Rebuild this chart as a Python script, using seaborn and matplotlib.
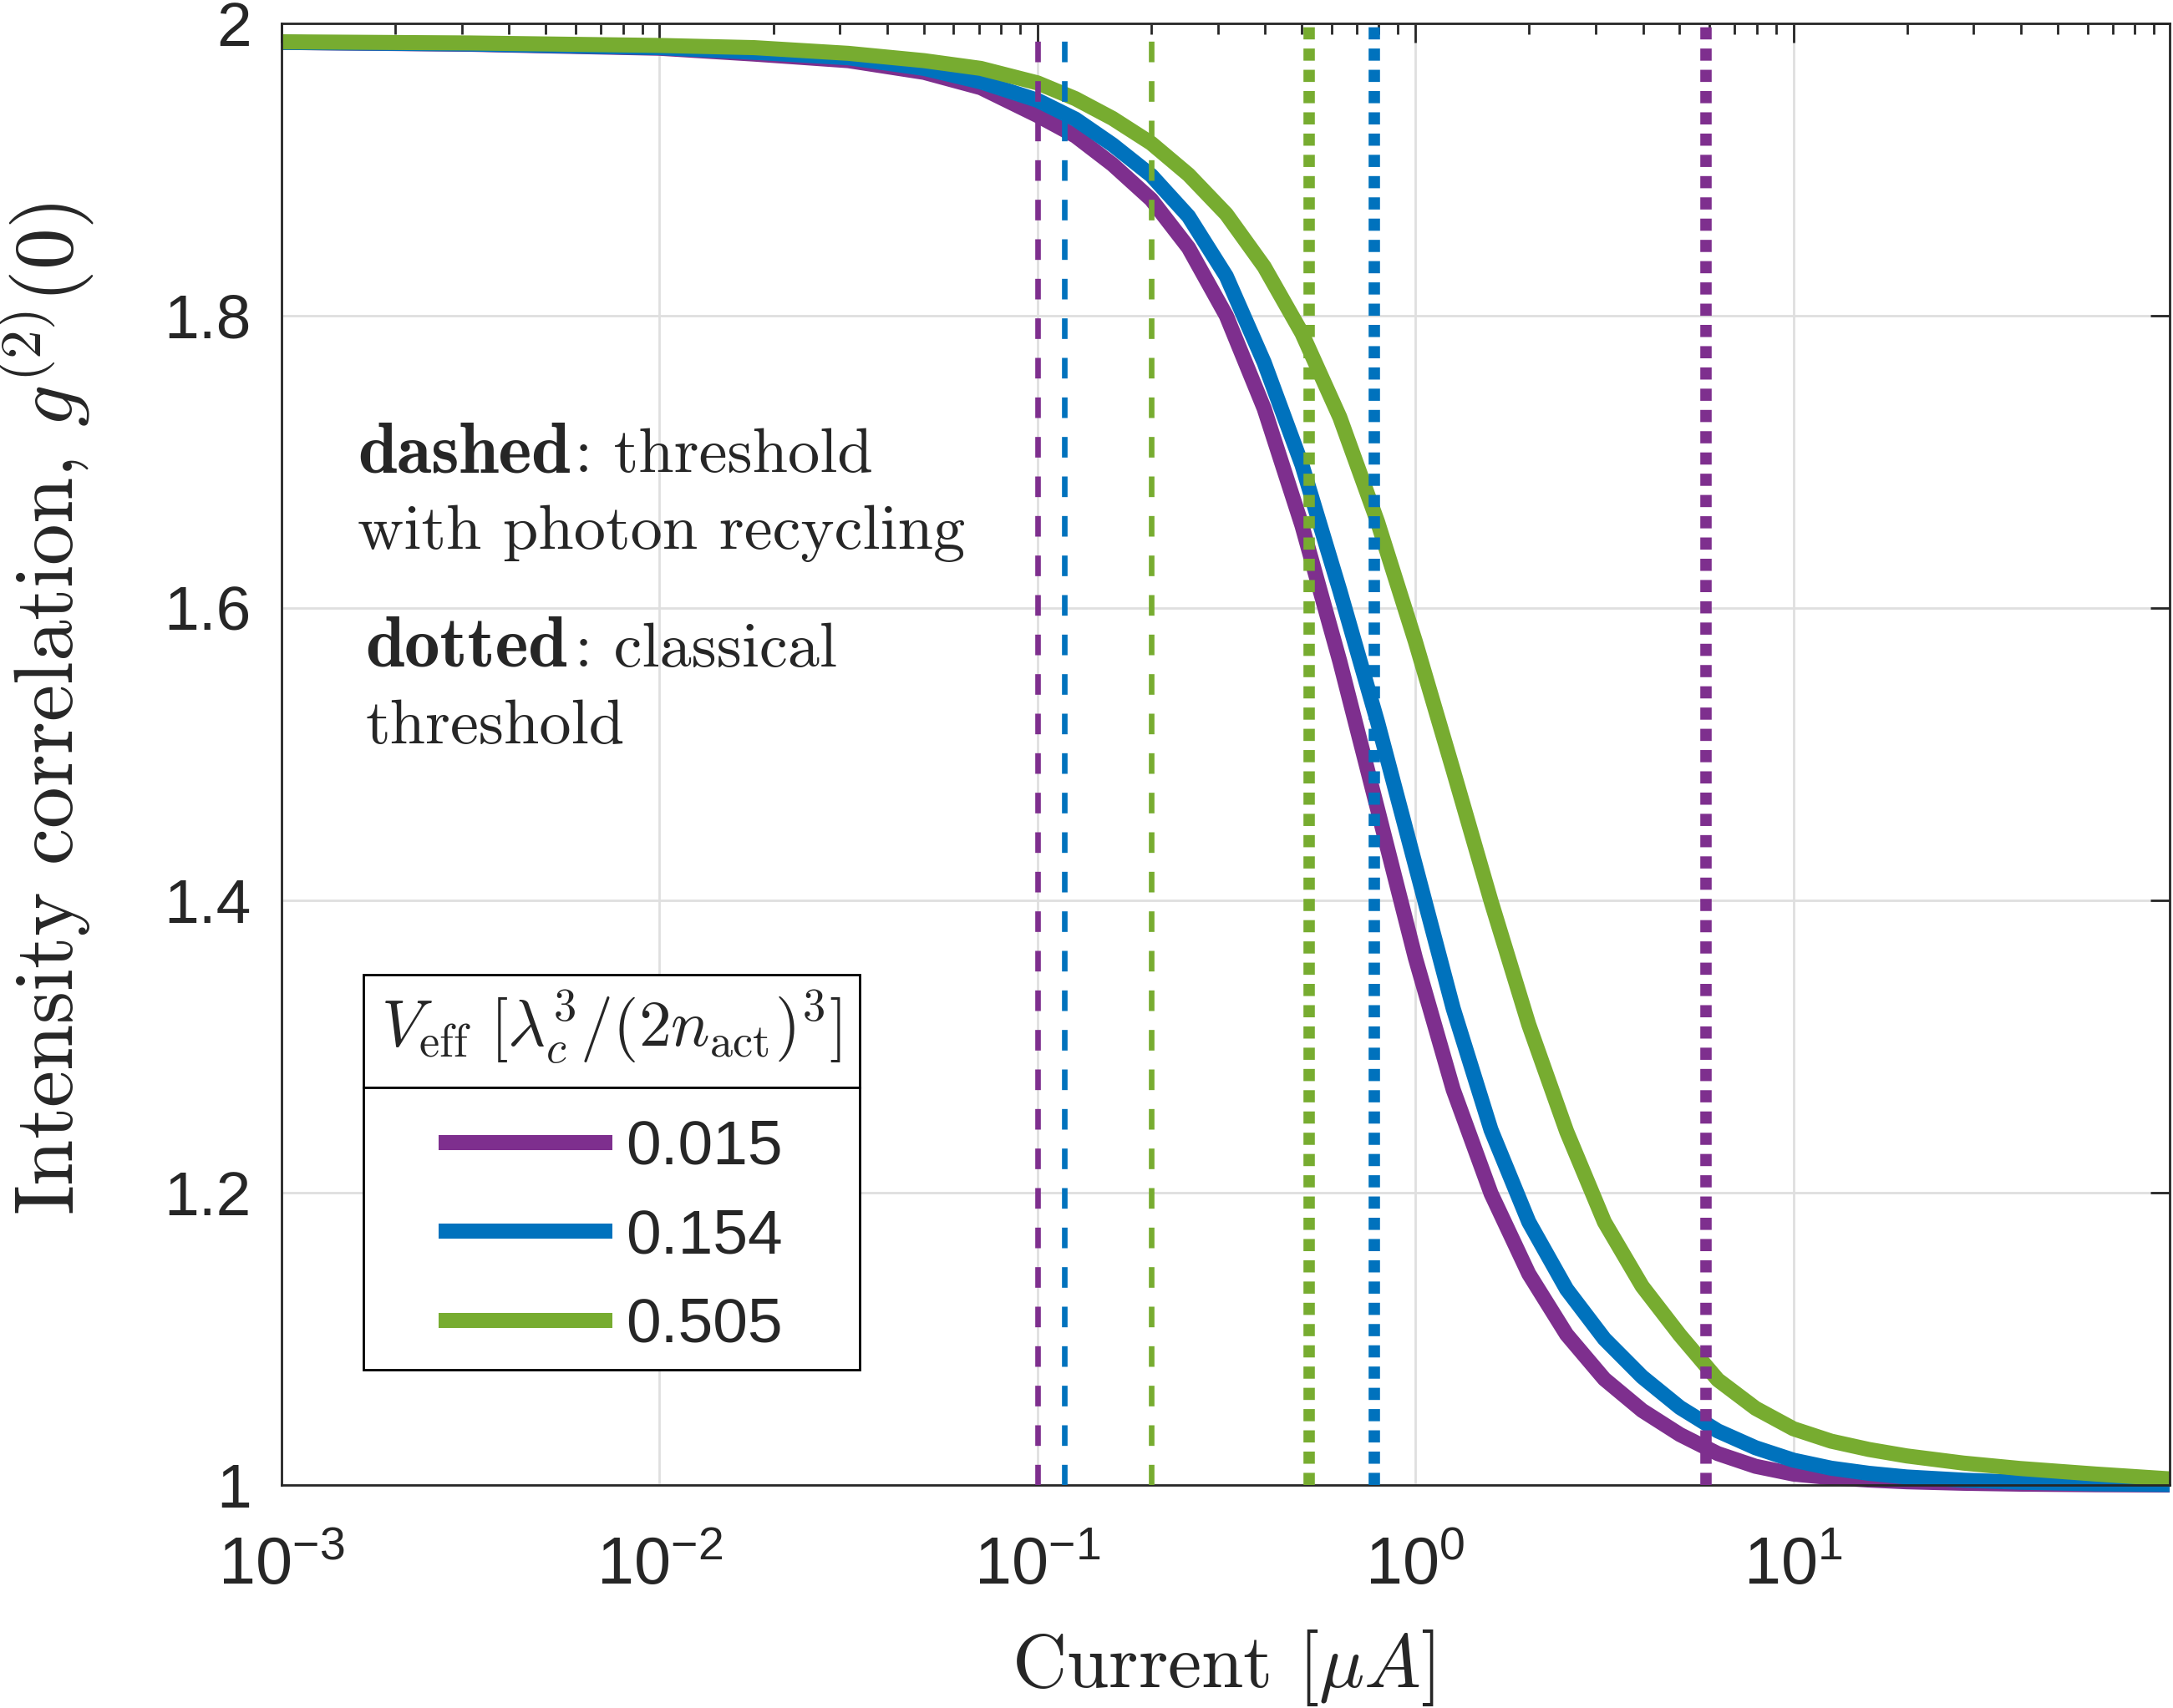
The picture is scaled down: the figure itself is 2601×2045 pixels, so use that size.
import numpy as np
import pandas as pd
import matplotlib
matplotlib.use('Agg')
import matplotlib.pyplot as plt
from matplotlib.patches import Rectangle
from matplotlib.lines import Line2D
from matplotlib.ticker import FixedLocator, FixedFormatter, LogLocator, NullFormatter
import seaborn as sns

# effective mode volumes (legend) and MATLAB default colours
veff_labels = ['0.015', '0.154', '0.505']
colors = ['#7E2F8E', '#0072BD', '#77AC30']

current = [0.001, 0.00316, 0.01, 0.0178, 0.0316, 0.0501, 0.0708, 0.1, 0.126, 0.158,
           0.2, 0.251, 0.316, 0.398, 0.501, 0.631, 0.794, 1.0, 1.259, 1.585,
           1.995, 2.512, 3.162, 3.981, 5.012, 6.31, 7.943, 10.0, 12.59, 15.85,
           19.95, 28.18, 39.81, 63.1, 99.0]

# g2(0) for each V_eff
g2_015 = [1.9870, 1.9857, 1.9830, 1.9790, 1.9745, 1.9665, 1.9560, 1.9370, 1.9230, 1.9035,
          1.8795, 1.8465, 1.8000, 1.7365, 1.6565, 1.5635, 1.4625, 1.3605, 1.2705, 1.1995,
          1.1445, 1.1030, 1.0725, 1.0510, 1.0345, 1.0215, 1.0128, 1.0075, 1.0050, 1.0034,
          1.0022, 1.0012, 1.0006, 1.0002, 1.0000]
g2_154 = [1.9870, 1.9859, 1.9834, 1.9802, 1.9765, 1.9692, 1.9600, 1.9474, 1.9345, 1.9170,
          1.8960, 1.8680, 1.8270, 1.7680, 1.6980, 1.6120, 1.5220, 1.4240, 1.3260, 1.2430,
          1.1800, 1.1340, 1.1000, 1.0740, 1.0530, 1.0370, 1.0255, 1.0170, 1.0115, 1.0080,
          1.0055, 1.0033, 1.0019, 1.0008, 1.0003]
g2_505 = [1.9874, 1.9866, 1.9849, 1.9834, 1.9795, 1.9745, 1.9692, 1.9593, 1.9485, 1.9350,
          1.9180, 1.8965, 1.8695, 1.8335, 1.7880, 1.7305, 1.6590, 1.5770, 1.4890, 1.3995,
          1.3150, 1.2420, 1.1800, 1.1360, 1.1025, 1.0720, 1.0525, 1.0385, 1.0300, 1.0243,
          1.0199, 1.0150, 1.0113, 1.0075, 1.0042]

# thresholds [uA], same order as veff_labels
thresh_recycling = [0.100, 0.118, 0.200]   # dashed
thresh_classical = [5.87, 0.778, 0.524]    # dotted

xtick_vals = [1e-3, 1e-2, 1e-1, 1e0, 1e1]
xtick_labels = [r'$\mathdefault{10^{-3}}$', r'$\mathdefault{10^{-2}}$', r'$\mathdefault{10^{-1}}$',
                r'$\mathdefault{10^{0}}$', r'$\mathdefault{10^{1}}$']
ytick_vals = [1.0, 1.2, 1.4, 1.6, 1.8, 2.0]
ytick_labels = ['1', '1.2', '1.4', '1.6', '1.8', '2']

sns.set_style('white')
plt.rcParams['font.family'] = ['Liberation Sans', 'DejaVu Sans']
plt.rcParams['mathtext.fontset'] = 'custom'
plt.rcParams['mathtext.rm'] = 'Liberation Sans'
plt.rcParams['mathtext.it'] = 'Liberation Sans:italic'
plt.rcParams['mathtext.bf'] = 'Liberation Sans:bold'

df = pd.concat([
    pd.DataFrame({'current': current, 'g2': g2_015, 'veff': veff_labels[0]}),
    pd.DataFrame({'current': current, 'g2': g2_154, 'veff': veff_labels[1]}),
    pd.DataFrame({'current': current, 'g2': g2_505, 'veff': veff_labels[2]}),
], ignore_index=True)

fig = plt.figure(figsize=(13.005, 10.225), dpi=200)
ax = fig.add_axes([0.12956, 0.13056, 0.86890, 0.85575])
ax.set_xscale('log')

sns.lineplot(data=df, x='current', y='g2', hue='veff', hue_order=veff_labels,
             palette=colors, linewidth=6.5, estimator=None, sort=False,
             legend=False, ax=ax)
for ln in ax.lines:
    ln.set_solid_capstyle('butt')
    ln.set_solid_joinstyle('round')
    ln.set_clip_on(False)
    ln.set_zorder(2)

for c, xv in zip(colors, thresh_recycling):
    ax.axvline(xv, color=c, lw=2.4, dashes=(3.7, 3.4), dash_capstyle='butt', zorder=3)
for c, xv in zip(colors, thresh_classical):
    ax.axvline(xv, color=c, lw=4.9, dashes=(1.07, 0.8), dash_capstyle='butt', zorder=3)

ax.set_xlim(1e-3, 99)
ax.set_ylim(1, 2)
ax.xaxis.set_major_locator(FixedLocator(xtick_vals))
ax.xaxis.set_major_formatter(FixedFormatter(xtick_labels))
ax.xaxis.set_minor_locator(LogLocator(base=10, subs=np.arange(2, 10), numticks=20))
ax.xaxis.set_minor_formatter(NullFormatter())
ax.yaxis.set_major_locator(FixedLocator(ytick_vals))
ax.yaxis.set_major_formatter(FixedFormatter(ytick_labels))

ax.set_axisbelow(True)
ax.grid(True, which='major', color='#dfdfdf', lw=1.0)
ax.tick_params(which='both', direction='in', top=True, right=True, color='#262626', width=1.0)
ax.tick_params(which='major', length=8.4)
ax.tick_params(which='minor', length=4.5)
ax.tick_params(axis='x', which='major', labelsize=28.5, pad=22, labelcolor='#262626')
ax.tick_params(axis='y', which='major', labelsize=27, pad=13, labelcolor='#262626')
for sp in ax.spines.values():
    sp.set_color('#262626')
    sp.set_linewidth(1.0)

ax.set_xlabel(r'Current [$\mu A$]', fontfamily='cmr10', math_fontfamily='cm', fontsize=32.6)
ax.xaxis.set_label_coords(0.4987, -0.1383)
ax.xaxis.label.set_va('baseline')
ax.set_ylabel(r'Intensity correlation, $g^{(2)}(0)$', fontfamily='cmr10', math_fontfamily='cm',
              fontsize=35.8)
ax.yaxis.set_label_coords(-0.1102, 0.531)
ax.yaxis.label.set_va('baseline')

# annotations (bold word, then the rest of the line)
bold_kw = dict(transform=ax.transAxes, fontfamily='cmb10', fontsize=30.5, ha='left', va='baseline')
note_kw = dict(transform=ax.transAxes, fontfamily='cmr10', fontsize=27.5, ha='left', va='baseline')
ax.text(0.0403, 0.6931, 'dashed', **bold_kw)
ax.text(0.1553, 0.6931, ': threshold', **note_kw)
ax.text(0.0403, 0.6408, 'with photon recycling', **note_kw)
ax.text(0.0445, 0.5600, 'dotted', **bold_kw)
ax.text(0.1553, 0.5600, ': classical', **note_kw)
ax.text(0.0445, 0.5074, 'threshold', **note_kw)

# legend: title box + entries box (MATLAB style)
ax.add_patch(Rectangle((0.0432, 0.272), 0.2631, 0.0771, transform=ax.transAxes,
                       facecolor='white', edgecolor='black', lw=1.0, zorder=6))
ax.add_patch(Rectangle((0.0432, 0.0789), 0.2631, 0.1931, transform=ax.transAxes,
                       facecolor='white', edgecolor='black', lw=1.0, zorder=6))
ax.text(0.1748, 0.300, r'$V_{\rm eff}\ [\lambda_c^3/(2n_{\rm act})^3]$', transform=ax.transAxes,
        math_fontfamily='cm', fontsize=28, ha='center', va='baseline', zorder=7)
handles = [Line2D([], [], color=c, lw=6.5, solid_capstyle='butt') for c in colors]
leg = ax.legend(handles, veff_labels, loc='upper left', bbox_to_anchor=(0.0832, 0.2503),
                bbox_transform=ax.transAxes, frameon=False, fontsize=27, handlelength=2.77,
                handletextpad=0.22, labelspacing=0.5, borderpad=0, borderaxespad=0)
leg.set_zorder(8)

fig.savefig('out.png', dpi=200)
